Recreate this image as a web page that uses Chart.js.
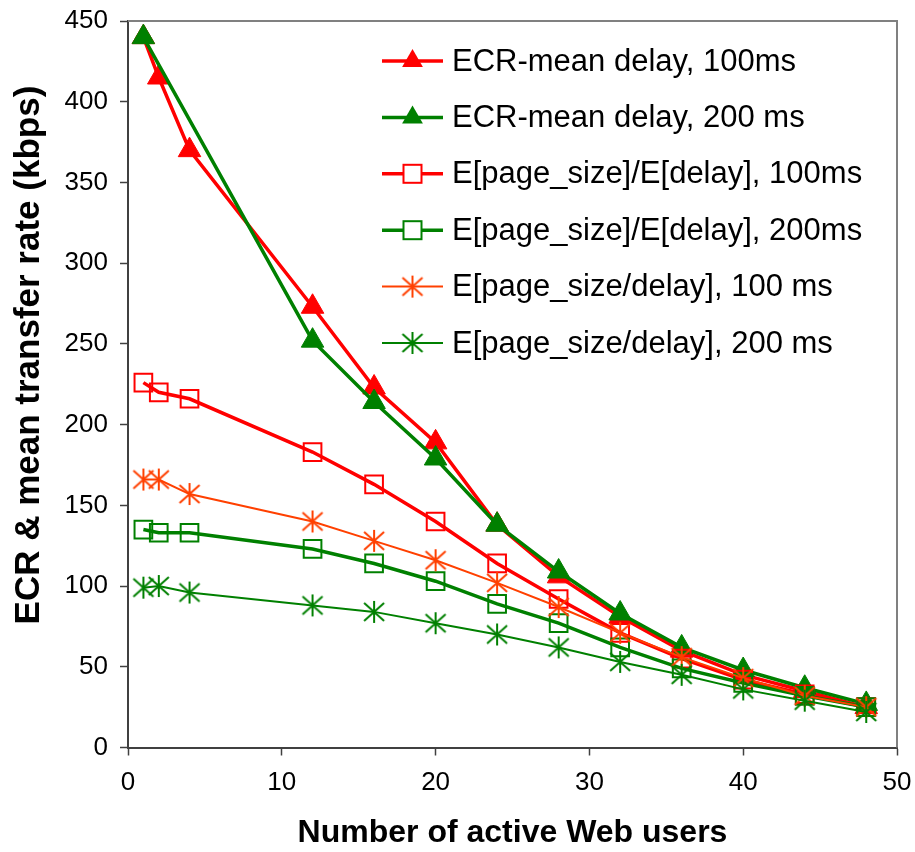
<!DOCTYPE html>
<html lang="en">
<head>
<meta charset="UTF-8">
<title>ECR &amp; mean transfer rate vs active Web users</title>
<script src="https://cdn.jsdelivr.net/npm/chart.js"></script>
<style>
  html, body { margin: 0; padding: 0; background: #fff; }
  #wrap { width: 915px; height: 852px; }
</style>
</head>
<body>
<div id="wrap"><canvas id="myChart" width="915" height="852"></canvas></div>
<script>
// number of active Web users
const usersAll = [1, 2, 4, 12, 16, 20, 24, 28, 32, 36, 40, 44, 48];
const usersEcr200 = [1, 12, 16, 20, 24, 28, 32, 36, 40, 44, 48];

// rates in kbps
const ecr100 = [440, 415, 370, 273, 223, 189, 138, 106, 81, 60, 45, 35, 25];
const ecr200 = [440, 252, 214, 179, 138, 109, 83, 62, 48, 37, 27];
const ratio100 = [226, 220, 216, 183, 163, 140, 114, 92, 71, 55, 42, 33, 25];
const ratio200 = [135, 133, 133, 123, 114, 103, 89, 77, 62, 49, 40, 32, 25];
const mean100 = [166, 166, 157, 140, 128, 116, 102, 87, 71, 56, 43, 32, 25];
const mean200 = [99, 100, 96, 88, 84, 77, 70, 62, 53, 45, 36, 29, 22];

const seriesNames = [
    'ECR-mean delay, 100ms',
    'ECR-mean delay, 200 ms',
    'E[page_size]/E[delay], 100ms',
    'E[page_size]/E[delay], 200ms',
    'E[page_size/delay], 100 ms',
    'E[page_size/delay], 200 ms'
];

const xTicks = [0, 10, 20, 30, 40, 50];
const yTicks = [0, 50, 100, 150, 200, 250, 300, 350, 400, 450];

const RED = '#ff0000';
const GREEN = '#008000';
const ORANGE = '#ff4000';

// asterisk marker (vertical bar + X), like the spreadsheet one
function asterisk(color) {
    const c = document.createElement('canvas');
    c.width = 24;
    c.height = 24;
    const g = c.getContext('2d');
    g.strokeStyle = color;
    g.lineWidth = 2;
    g.beginPath();
    g.moveTo(12, 1); g.lineTo(12, 23);
    g.moveTo(2, 3); g.lineTo(22, 21);
    g.moveTo(22, 3); g.lineTo(2, 21);
    g.stroke();
    return c;
}

function pts(xs, ys) {
    return xs.map((x, i) => ({ x: x, y: ys[i] }));
}

function triSet(label, xs, ys, color, order) {
    return {
        label: label, data: pts(xs, ys), order: order,
        borderColor: color, backgroundColor: color, borderWidth: 3.5,
        pointStyle: 'triangle', pointRadius: 13, pointBorderWidth: 1,
        pointBackgroundColor: color, pointBorderColor: color
    };
}

function squareSet(label, xs, ys, color, order) {
    return {
        label: label, data: pts(xs, ys), order: order,
        borderColor: color, backgroundColor: 'rgba(0,0,0,0)', borderWidth: 3.5,
        pointStyle: 'rect', pointRadius: 12.5, pointBorderWidth: 2,
        pointBackgroundColor: 'rgba(0,0,0,0)', pointBorderColor: color
    };
}

function starSet(label, xs, ys, color, order) {
    return {
        label: label, data: pts(xs, ys), order: order,
        borderColor: color, backgroundColor: color, borderWidth: 2,
        pointStyle: asterisk(color), pointRadius: 11
    };
}

const datasets = [
    triSet(seriesNames[0], usersAll, ecr100, RED, 6),
    triSet(seriesNames[1], usersEcr200, ecr200, GREEN, 5),
    squareSet(seriesNames[2], usersAll, ratio100, RED, 4),
    squareSet(seriesNames[3], usersAll, ratio200, GREEN, 3),
    starSet(seriesNames[4], usersAll, mean100, ORANGE, 2),
    starSet(seriesNames[5], usersAll, mean200, GREEN, 1)
];

// gray frame on top and right of plot area
const frame = {
    id: 'frame',
    beforeDatasetsDraw(chart) {
        const a = chart.chartArea, ctx = chart.ctx;
        ctx.save();
        ctx.strokeStyle = '#808080';
        ctx.lineWidth = 2;
        ctx.beginPath();
        ctx.moveTo(a.left, a.top);
        ctx.lineTo(a.right, a.top);
        ctx.lineTo(a.right, a.bottom);
        ctx.stroke();
        ctx.restore();
    }
};

// legend with line + marker sample, inside the plot
const lineLegend = {
    id: 'lineLegend',
    afterDraw(chart) {
        const ctx = chart.ctx;
        const x0 = 382, x1 = 443, xm = 412.5, xt = 452;
        ctx.save();
        chart.data.datasets.forEach((ds, i) => {
            const y = 61 + i * 56.4;
            ctx.strokeStyle = ds.borderColor;
            ctx.lineWidth = ds.borderWidth;
            ctx.beginPath();
            ctx.moveTo(x0, y);
            ctx.lineTo(x1, y);
            ctx.stroke();
            if (ds.pointStyle === 'triangle') {
                const r = 12;
                const w = r * Math.sin(Math.PI / 3);
                ctx.fillStyle = ds.borderColor;
                ctx.beginPath();
                ctx.moveTo(xm, y - r);
                ctx.lineTo(xm + w, y + r / 2);
                ctx.lineTo(xm - w, y + r / 2);
                ctx.closePath();
                ctx.fill();
            } else if (ds.pointStyle === 'rect') {
                const s = 9;
                ctx.fillStyle = '#fff';
                ctx.lineWidth = 2;
                ctx.fillRect(xm - s, y - s, 2 * s, 2 * s);
                ctx.strokeRect(xm - s, y - s, 2 * s, 2 * s);
            } else {
                const img = ds.pointStyle;
                ctx.drawImage(img, xm - img.width / 2, y - img.height / 2);
            }
            ctx.fillStyle = '#000';
            ctx.font = '31px "Liberation Sans", Arial, sans-serif';
            ctx.textBaseline = 'middle';
            ctx.textAlign = 'left';
            ctx.fillText(ds.label, xt, y + 1);
        });
        ctx.restore();
    }
};

Chart.defaults.font.family = '"Liberation Sans", Arial, sans-serif';
Chart.defaults.color = '#000';

const myChart = new Chart(document.getElementById('myChart'), {
    type: 'line',
    data: { datasets: datasets },
    options: {
        responsive: false,
        animation: false,
        events: [],
        layout: { padding: { top: 21, right: 18, left: 0, bottom: 0 } },
        plugins: {
            legend: { display: false },
            tooltip: { enabled: false }
        },
        elements: { line: { tension: 0 } },
        scales: {
            x: {
                type: 'linear',
                min: xTicks[0],
                max: xTicks[xTicks.length - 1],
                afterBuildTicks: s => { s.ticks = xTicks.map(v => ({ value: v })); },
                afterFit: s => { s.height = 104.5; s.paddingLeft = 0; s.paddingRight = 0; },
                ticks: { font: { size: 26 }, padding: 12, maxRotation: 0 },
                grid: { drawOnChartArea: false, tickLength: 8, tickColor: '#404040', tickWidth: 1.5 },
                border: { color: '#404040', width: 2 },
                title: {
                    display: true,
                    text: 'Number of active Web users',
                    font: { size: 32, weight: 'bold' },
                    padding: 0
                }
            },
            y: {
                min: yTicks[0],
                max: yTicks[yTicks.length - 1],
                afterBuildTicks: s => { s.ticks = yTicks.map(v => ({ value: v })); },
                afterFit: s => { s.width = 128; s.paddingTop = 0; s.paddingBottom = 0; },
                ticks: { font: { size: 26 }, padding: 12 },
                grid: { drawOnChartArea: false, tickLength: 8, tickColor: '#404040', tickWidth: 1.5 },
                border: { color: '#404040', width: 2 },
                title: {
                    display: true,
                    // leading spaces push the centred title up, as in the original
                    text: '      ECR & mean transfer rate (kbps)',
                    font: { size: 35, weight: 'bold' },
                    padding: { top: 8, bottom: 0 }
                }
            }
        }
    },
    plugins: [frame, lineLegend]
});
</script>
</body>
</html>
